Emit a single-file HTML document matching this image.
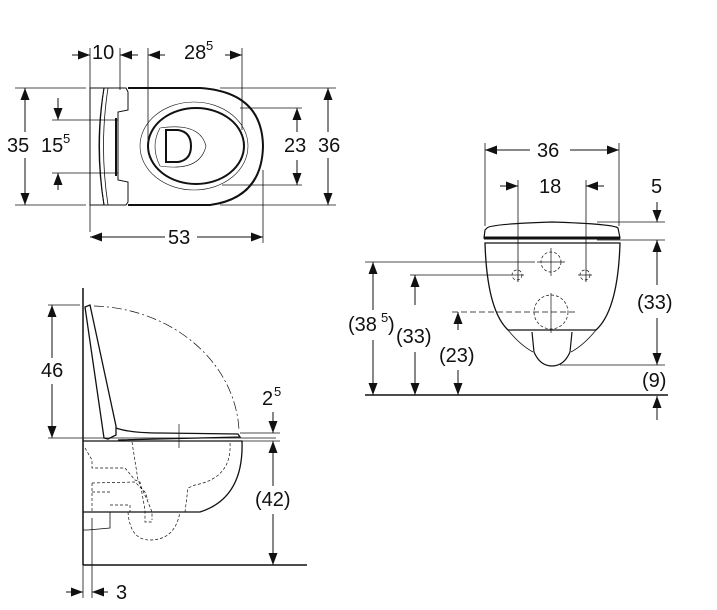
<!DOCTYPE html>
<html><head><meta charset="utf-8"><style>
html,body{margin:0;padding:0;background:#fff}
svg{display:block}
text{font-family:"Liberation Sans",Arial,sans-serif;font-size:20px;fill:#111}
.s{font-size:13px}
</style></head><body>
<svg width="717" height="610" viewBox="0 0 717 610" xmlns="http://www.w3.org/2000/svg">
<defs>
<marker id="a" viewBox="0 0 12 9" refX="12" refY="4.5" markerWidth="12" markerHeight="9" markerUnits="userSpaceOnUse" orient="auto-start-reverse">
<path d="M0,0 L12,4.5 L0,9z" fill="#111"/></marker>
</defs>
<g stroke="#111" fill="none" stroke-width="1">
<!-- ===== TOP VIEW ===== -->
<line x1="90" y1="48" x2="90" y2="232" stroke-width="0.8"/>
<line x1="120" y1="48" x2="120" y2="90" stroke-width="0.8"/>
<line x1="72" y1="55" x2="90" y2="55" marker-end="url(#a)"/>
<line x1="138" y1="55" x2="120" y2="55" marker-end="url(#a)"/>
<line x1="148" y1="48" x2="148" y2="140" stroke-width="0.8"/>
<line x1="242" y1="48" x2="242" y2="130" stroke-width="0.8"/>
<line x1="165" y1="55" x2="148" y2="55" marker-end="url(#a)"/>
<line x1="225" y1="55" x2="242" y2="55" marker-end="url(#a)"/>
<path d="M90,88 L104,88 Q95,146 104,205 L90,205 Z" stroke-width="1"/>
<path d="M104,88 Q94,146 104,205" stroke-width="1"/>
<path d="M108,88 Q99,146 108,205" stroke-width="0.8"/>
<path d="M104,88 L126,88 L128,92 L128,110 L118,112 L118,180 L128,182 L128,202 L126,205 L104,205"/>
<line x1="116" y1="118" x2="116" y2="176" stroke-width="2"/>
<path d="M128,88 L200,88 Q262,92 263,146 Q262,198 210,205 L128,205" stroke-width="2"/>
<ellipse cx="194" cy="146" rx="54" ry="44" stroke-width="0.6"/>
<ellipse cx="196" cy="146" rx="48" ry="38" stroke-width="2"/>
<path d="M160,128 Q200,122 206,146 Q200,172 160,166 Q150,146 160,128Z" stroke-width="0.6"/>
<path d="M166,130 L178,130 Q191,132 191,146 Q191,160 178,162 L166,162 Z" stroke-width="2"/>
<line x1="15" y1="88" x2="86" y2="88" stroke-width="0.8"/>
<line x1="15" y1="205" x2="86" y2="205" stroke-width="0.8"/>
<line x1="25" y1="132" x2="25" y2="88" marker-end="url(#a)"/>
<line x1="25" y1="158" x2="25" y2="205" marker-end="url(#a)"/>
<line x1="52" y1="120" x2="118" y2="120" stroke-width="0.8"/>
<line x1="52" y1="173" x2="118" y2="173" stroke-width="0.8"/>
<line x1="58" y1="98" x2="58" y2="120" marker-end="url(#a)"/>
<line x1="58" y1="190" x2="58" y2="173" marker-end="url(#a)"/>
<line x1="240" y1="108" x2="302" y2="108" stroke-width="0.8"/>
<line x1="222" y1="185" x2="302" y2="185" stroke-width="0.8"/>
<line x1="297" y1="132" x2="297" y2="108" marker-end="url(#a)"/>
<line x1="297" y1="160" x2="297" y2="185" marker-end="url(#a)"/>
<line x1="220" y1="88" x2="336" y2="88" stroke-width="0.8"/>
<line x1="220" y1="205" x2="336" y2="205" stroke-width="0.8"/>
<line x1="328" y1="132" x2="328" y2="88" marker-end="url(#a)"/>
<line x1="328" y1="158" x2="328" y2="205" marker-end="url(#a)"/>
<line x1="263" y1="170" x2="263" y2="243" stroke-width="0.8"/>
<line x1="165" y1="237" x2="90" y2="237" marker-end="url(#a)"/>
<line x1="197" y1="237" x2="263" y2="237" marker-end="url(#a)"/>

<!-- ===== SIDE VIEW ===== -->
<line x1="83" y1="288" x2="83" y2="565" stroke-width="1.5"/>
<line x1="83" y1="565" x2="307" y2="565" stroke-width="1.5"/>
<line x1="48" y1="305" x2="80" y2="305" stroke-width="0.8"/>
<line x1="48" y1="438" x2="276" y2="438" stroke-width="0.8"/>
<line x1="52" y1="358" x2="52" y2="305" marker-end="url(#a)"/>
<line x1="52" y1="384" x2="52" y2="438" marker-end="url(#a)"/>
<path d="M94,306 A150,130 0 0 1 239,430" stroke-width="0.7" stroke-dasharray="10,3,2,3"/>
<path d="M85,307 L90,305 L116,426 L116,435 L108,439 L104,438 Z" stroke-width="1.3"/>
<path d="M116,428 Q130,433 160,433 L238,434 L240,437 L118,440" stroke-width="1.3"/>
<line x1="179" y1="424" x2="179" y2="448" stroke-width="0.7"/>
<path d="M83,441 L242,441 Q244,498 200,512 L83,512" stroke-width="1.3"/>
<g stroke-dasharray="3,2" stroke-width="0.7">
<path d="M85,448 L92,460 L92,468 L125,468 L135,480 L140,482 L145,510 L145,522 L152,522"/>
<path d="M132,442 L138,480 L148,502 L152,512 L152,520"/>
<path d="M92,483 L135,482 L145,492 L148,500"/>
<path d="M92,483 L92,512"/>
<path d="M110,492 L92,492"/>
<path d="M110,505 L130,505 L130,512"/>
<path d="M128,512 Q130,540 150,540 Q175,540 180,512"/>
<path d="M230,443 Q232,478 195,485 L188,488 L185,512"/>
</g>
<path d="M83,512 L110,512 L110,528 L88,530 L83,530" stroke-width="0.8"/>
<line x1="92" y1="518" x2="92" y2="598" stroke-width="0.8"/>
<line x1="83" y1="565" x2="83" y2="598" stroke-width="0.8"/>
<line x1="66" y1="592" x2="83" y2="592" marker-end="url(#a)"/>
<line x1="108" y1="592" x2="92" y2="592" marker-end="url(#a)"/>
<line x1="240" y1="433" x2="280" y2="433" stroke-width="0.8"/>
<line x1="240" y1="441" x2="280" y2="441" stroke-width="0.8"/>
<line x1="273" y1="412" x2="273" y2="433" marker-end="url(#a)"/>
<line x1="273" y1="486" x2="273" y2="441" marker-end="url(#a)"/>
<line x1="273" y1="514" x2="273" y2="565" marker-end="url(#a)"/>

<!-- ===== FRONT VIEW ===== -->
<line x1="485" y1="143" x2="485" y2="226" stroke-width="0.8"/>
<line x1="619" y1="143" x2="619" y2="226" stroke-width="0.8"/>
<line x1="530" y1="150" x2="485" y2="150" marker-end="url(#a)"/>
<line x1="570" y1="150" x2="619" y2="150" marker-end="url(#a)"/>
<line x1="518" y1="180" x2="518" y2="282" stroke-width="0.8"/>
<line x1="586" y1="180" x2="586" y2="282" stroke-width="0.8"/>
<line x1="500" y1="186" x2="518" y2="186" marker-end="url(#a)"/>
<line x1="604" y1="186" x2="586" y2="186" marker-end="url(#a)"/>
<line x1="597" y1="222" x2="665" y2="222" stroke-width="0.8"/>
<line x1="597" y1="240" x2="665" y2="240" stroke-width="0.8"/>
<line x1="657" y1="202" x2="657" y2="222" marker-end="url(#a)"/>
<path d="M487,228 Q490,224 552,222 Q614,224 618,228 L620,238 L484,238 L485,230Z" stroke-width="1.2"/>
<line x1="484" y1="238" x2="620" y2="238" stroke-width="3"/>
<path d="M485,243 L620,243 Q618,310 596,330 L508,330 Q487,310 485,243Z" stroke-width="1.3"/>
<path d="M508,330 Q520,345 533,352 M596,330 Q584,345 571,352" stroke-width="0.8"/>
<path d="M532,332 L534,352 Q540,366 552,366 Q564,366 570,352 L572,332" stroke-width="1.2"/>
<g stroke-width="0.7" stroke-dasharray="3,2">
<circle cx="551" cy="262" r="10"/>
<circle cx="517" cy="275" r="5"/>
<circle cx="585" cy="275" r="5"/>
<circle cx="551" cy="312" r="17"/>
</g>
<g stroke-width="0.7">
<line x1="551" y1="248" x2="551" y2="276"/><line x1="537" y1="262" x2="565" y2="262"/>
<line x1="510" y1="275" x2="524" y2="275"/><line x1="578" y1="275" x2="592" y2="275"/>
<line x1="551" y1="293" x2="551" y2="333"/>
</g>
<line x1="365" y1="395" x2="668" y2="395" stroke-width="1.5"/>
<line x1="365" y1="262" x2="535" y2="262" stroke-width="0.8"/>
<line x1="410" y1="275" x2="510" y2="275" stroke-width="0.8"/>
<line x1="452" y1="312" x2="575" y2="312" stroke-width="0.8" stroke-dasharray="6,3"/>
<line x1="373" y1="310" x2="373" y2="262" marker-end="url(#a)"/>
<line x1="373" y1="340" x2="373" y2="395" marker-end="url(#a)"/>
<line x1="415" y1="305" x2="415" y2="275" marker-end="url(#a)"/>
<line x1="415" y1="352" x2="415" y2="395" marker-end="url(#a)"/>
<line x1="458" y1="330" x2="458" y2="312" marker-end="url(#a)"/>
<line x1="458" y1="370" x2="458" y2="395" marker-end="url(#a)"/>
<line x1="560" y1="365" x2="665" y2="365" stroke-width="0.8"/>
<line x1="657" y1="285" x2="657" y2="240" marker-end="url(#a)"/>
<line x1="657" y1="318" x2="657" y2="365" marker-end="url(#a)"/>
<line x1="657" y1="420" x2="657" y2="396" marker-end="url(#a)"/>
</g>
<g>
<text x="92" y="59">10</text>
<text x="184" y="59">28</text><text class="s" x="206" y="50">5</text>
<text x="7" y="152">35</text>
<text x="41" y="152">15</text><text class="s" x="63" y="143">5</text>
<text x="284" y="152">23</text>
<text x="318" y="152">36</text>
<text x="168" y="244">53</text>
<text x="41" y="377">46</text>
<text x="262" y="405">2</text><text class="s" x="274" y="396">5</text>
<text x="255" y="506">(42)</text>
<text x="116" y="599">3</text>
<text x="537" y="157">36</text>
<text x="539" y="193">18</text>
<text x="651" y="193">5</text>
<text x="348" y="331">(38</text><text class="s" x="381" y="322">5</text><text x="388" y="331">)</text>
<text x="396" y="343">(33)</text>
<text x="439" y="362">(23)</text>
<text x="637" y="309">(33)</text>
<text x="642" y="387">(9)</text>
</g>
</svg>
</body></html>
